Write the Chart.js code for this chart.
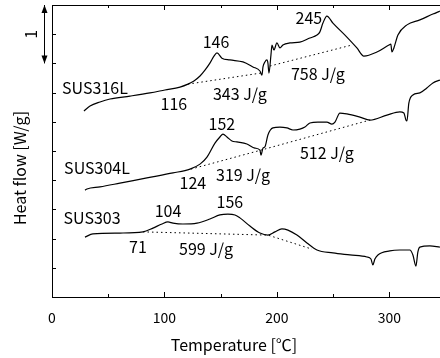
<!DOCTYPE html>
<html>
<head>
<meta charset="utf-8">
<script src="https://cdn.jsdelivr.net/npm/chart.js@4"></script>
<style>
  html, body { margin: 0; padding: 0; background: #fff; }
  canvas { display: block; }
</style>
</head>
<body>
<canvas id="dscChart" width="440" height="358"></canvas>
<script>
const FONT = '"Noto Sans CJK JP", "Liberation Sans", sans-serif';

// x axis tick labels, temperature in C
const xTicks = [0, 100, 200, 300];

// SUS316L trace
const sus316lTemp = [28.4, 33.8, 42.7, 51.6, 69.3, 87.1, 100.4, 113.8, 120.9, 126.2, 131.6, 136.0, 140.4, 144.0, 146.7,
    151.1, 158.2, 169.8, 178.7, 184.9, 186.7, 187.6, 189.3, 191.1, 192.0, 192.9, 194.7, 195.6, 197.3, 200.0, 202.7,
    205.3, 211.6, 220.4, 229.3, 235.6, 238.2, 240.9, 244.4, 249.8, 262.2, 271.1, 277.3, 288.9, 299.6, 301.3, 302.2,
    304.0, 307.6, 315.6, 327.1, 338.7, 344.9];
const sus316lHeat = [6.37, 6.54, 6.68, 6.78, 6.88, 6.99, 7.09, 7.19, 7.29, 7.40, 7.57, 7.77, 8.01, 8.25, 8.36,
    8.18, 8.12, 8.05, 7.88, 7.74, 7.60, 7.88, 8.05, 8.12, 8.01, 7.67, 8.29, 8.63, 8.46, 8.70, 8.53,
    8.63, 8.70, 8.73, 8.87, 8.97, 9.08, 9.38, 9.62, 9.38, 8.90, 8.53, 8.25, 8.39, 8.63, 8.66, 8.39,
    8.53, 8.97, 9.32, 9.49, 9.69, 9.79];
const sus316lBaseTemp = [120.9, 185.8, null, 193.8, 266.7];
const sus316lBaseHeat = [7.29, 7.67, null, 7.91, 8.63];

// SUS304L trace
const sus304lTemp = [29.3, 31.1, 42.7, 60.4, 84.4, 107.6, 122.7, 131.6, 137.8, 144.9, 149.3, 152.0, 155.6, 160.0,
    164.4, 173.3, 180.4, 184.9, 185.8, 187.6, 189.3, 192.0, 196.4, 202.7, 208.9, 214.2, 220.4, 224.9, 229.3, 236.4,
    244.4, 248.9, 251.6, 256.0, 262.2, 273.8, 282.7, 297.8, 309.3, 312.9, 314.7, 315.6, 317.3, 320.9, 327.1, 333.3,
    338.7, 344.9];
const sus304lHeat = [3.66, 3.70, 3.77, 3.90, 4.08, 4.25, 4.38, 4.55, 4.79, 5.27, 5.48, 5.58, 5.48, 5.34,
    5.31, 5.24, 5.10, 5.03, 4.86, 5.10, 5.14, 5.55, 5.79, 5.82, 5.79, 5.72, 5.75, 5.82, 5.96, 5.99,
    5.99, 5.92, 5.99, 6.30, 6.27, 6.16, 6.06, 6.23, 6.34, 6.30, 6.06, 6.03, 6.64, 6.92, 6.99, 7.16,
    7.33, 7.43];
const sus304lBaseTemp = [123.6, 185.8, 282.7];
const sus304lBaseHeat = [4.38, 5.03, 6.06];

// SUS303 trace
const sus303Temp = [29.3, 36.4, 60.4, 80.9, 89.8, 97.8, 103.1, 107.6, 116.4, 128.9, 140.4, 149.3, 156.4, 162.7,
    167.1, 176.0, 184.9, 192.0, 198.2, 204.4, 209.8, 217.8, 226.7, 235.6, 249.8, 264.9, 280.0, 283.6, 285.3, 287.1,
    289.8, 300.4, 309.3, 318.2, 320.9, 323.6, 325.3, 327.1, 336.0, 344.9];
const sus303Heat = [2.05, 2.16, 2.19, 2.23, 2.36, 2.50, 2.57, 2.53, 2.50, 2.53, 2.67, 2.81, 2.84, 2.81,
    2.71, 2.43, 2.19, 2.12, 2.23, 2.33, 2.29, 2.12, 1.85, 1.61, 1.51, 1.44, 1.37, 1.30, 1.10, 1.30,
    1.44, 1.58, 1.61, 1.61, 1.44, 1.06, 1.54, 1.71, 1.75, 1.71];
const sus303BaseTemp = [80.9, 192.0, 231.1];
const sus303BaseHeat = [2.23, 2.12, 1.64];

// annotation texts and where they sit (temperature, heat flow)
const noteText = ['SUS316L', '146', '116', '343 J/g', '245', '758 J/g',
    'SUS304L', '152', '124', '319 J/g', '512 J/g',
    'SUS303', '104', '156', '71', '599 J/g'];
const noteTemp = [38.2, 145.8, 108.4, 167.1, 228.4, 236.4,
    40.0, 151.1, 125.3, 169.8, 244.4,
    35.6, 103.1, 158.2, 76.4, 136.9];
const noteHeat = [7.16, 8.73, 6.61, 6.95, 9.55, 7.64,
    4.42, 5.92, 3.90, 4.18, 4.93,
    2.71, 2.95, 3.25, 1.71, 1.64];

function toPoints(xs, ys) {
    return xs.map((v, i) => (v === null ? { x: null, y: null } : { x: v, y: ys[i] }));
}

function trace(label, xs, ys) {
    return {
        label: label,
        data: toPoints(xs, ys),
        borderColor: '#000',
        borderWidth: 1.2,
        pointRadius: 0,
        showLine: true,
        cubicInterpolationMode: 'monotone'
    };
}

function baseline(label, xs, ys) {
    return {
        label: label,
        data: toPoints(xs, ys),
        borderColor: '#000',
        borderWidth: 1,
        borderDash: [1.5, 3],
        pointRadius: 0,
        showLine: true,
        spanGaps: false,
        tension: 0
    };
}

const decorations = {
    id: 'decorations',
    afterDatasetsDraw(chart) {
        const { ctx, chartArea, scales: { x, y } } = chart;
        ctx.save();
        ctx.strokeStyle = '#000';
        ctx.fillStyle = '#000';
        ctx.lineWidth = 1;

        // top frame line
        ctx.beginPath();
        ctx.moveTo(chartArea.left, chartArea.top + 0.5);
        ctx.lineTo(chartArea.right, chartArea.top + 0.5);
        ctx.stroke();

        // inward ticks, bottom and top
        for (let t = 0; t <= 340; t += 50) {
            const px = Math.round(x.getPixelForValue(t)) + 0.5;
            const len = t % 100 === 0 ? 5 : 3;
            ctx.beginPath();
            ctx.moveTo(px, chartArea.bottom);
            ctx.lineTo(px, chartArea.bottom - len);
            ctx.moveTo(px, chartArea.top);
            ctx.lineTo(px, chartArea.top + len);
            ctx.stroke();
        }
        // inward ticks, left
        for (let v = 1; v < 10; v++) {
            const py = Math.round(y.getPixelForValue(v)) + 0.5;
            ctx.beginPath();
            ctx.moveTo(chartArea.left, py);
            ctx.lineTo(chartArea.left + 4, py);
            ctx.stroke();
        }

        // scale arrow for 1 W/g
        const ax = chartArea.left - 7.5;
        const a0 = y.getPixelForValue(10);
        const a1 = y.getPixelForValue(8);
        ctx.beginPath();
        ctx.moveTo(ax, a0);
        ctx.lineTo(ax, a1);
        ctx.stroke();
        ctx.beginPath();
        ctx.moveTo(ax, a0);
        ctx.lineTo(ax - 3, a0 + 8);
        ctx.lineTo(ax + 3, a0 + 8);
        ctx.closePath();
        ctx.fill();
        ctx.beginPath();
        ctx.moveTo(ax, a1);
        ctx.lineTo(ax - 3, a1 - 8);
        ctx.lineTo(ax + 3, a1 - 8);
        ctx.closePath();
        ctx.fill();

        ctx.textAlign = 'center';
        ctx.textBaseline = 'middle';
        ctx.font = '16px ' + FONT;
        ctx.save();
        ctx.translate(chartArea.left - 21, (a0 + a1) / 2);
        ctx.rotate(-Math.PI / 2);
        ctx.fillText('1', 0, 0);
        ctx.restore();

        // annotations
        noteText.forEach((txt, i) => {
            ctx.fillText(txt, x.getPixelForValue(noteTemp[i]), y.getPixelForValue(noteHeat[i]));
        });

        // axis titles
        ctx.fillText('Temperature [\u2103]', 234, chartArea.bottom + 48);
        ctx.save();
        ctx.translate(20, chartArea.top + 163);
        ctx.rotate(-Math.PI / 2);
        ctx.fillText('Heat flow [W/g]', 0, 0);
        ctx.restore();

        ctx.restore();
    }
};

const ctxDsc = document.getElementById('dscChart').getContext('2d');

const dscChart = new Chart(ctxDsc, {
    type: 'scatter',
    data: {
        datasets: [
            trace('SUS316L', sus316lTemp, sus316lHeat),
            baseline('SUS316L base', sus316lBaseTemp, sus316lBaseHeat),
            trace('SUS304L', sus304lTemp, sus304lHeat),
            baseline('SUS304L base', sus304lBaseTemp, sus304lBaseHeat),
            trace('SUS303', sus303Temp, sus303Heat),
            baseline('SUS303 base', sus303BaseTemp, sus303BaseHeat)
        ]
    },
    options: {
        responsive: false,
        animation: false,
        devicePixelRatio: 1,
        layout: { padding: { top: 5, right: 0, left: 0, bottom: 0 } },
        plugins: {
            legend: { display: false },
            tooltip: { enabled: false }
        },
        scales: {
            x: {
                type: 'linear',
                min: 0,
                max: 345,
                afterBuildTicks: (scale) => { scale.ticks = xTicks.map(v => ({ value: v })); },
                afterFit: (scale) => { scale.height = 61; },
                grid: { display: false, drawTicks: false },
                border: { display: true, color: '#000', width: 1 },
                ticks: {
                    color: '#000',
                    padding: 12,
                    maxRotation: 0,
                    font: { family: FONT, size: 14 }
                }
            },
            y: {
                type: 'linear',
                min: 0,
                max: 10,
                afterFit: (scale) => { scale.width = 52; },
                grid: { display: false, drawTicks: false },
                border: { display: true, color: '#000', width: 1 },
                ticks: { display: false }
            }
        }
    },
    plugins: [decorations]
});
</script>
</body>
</html>
